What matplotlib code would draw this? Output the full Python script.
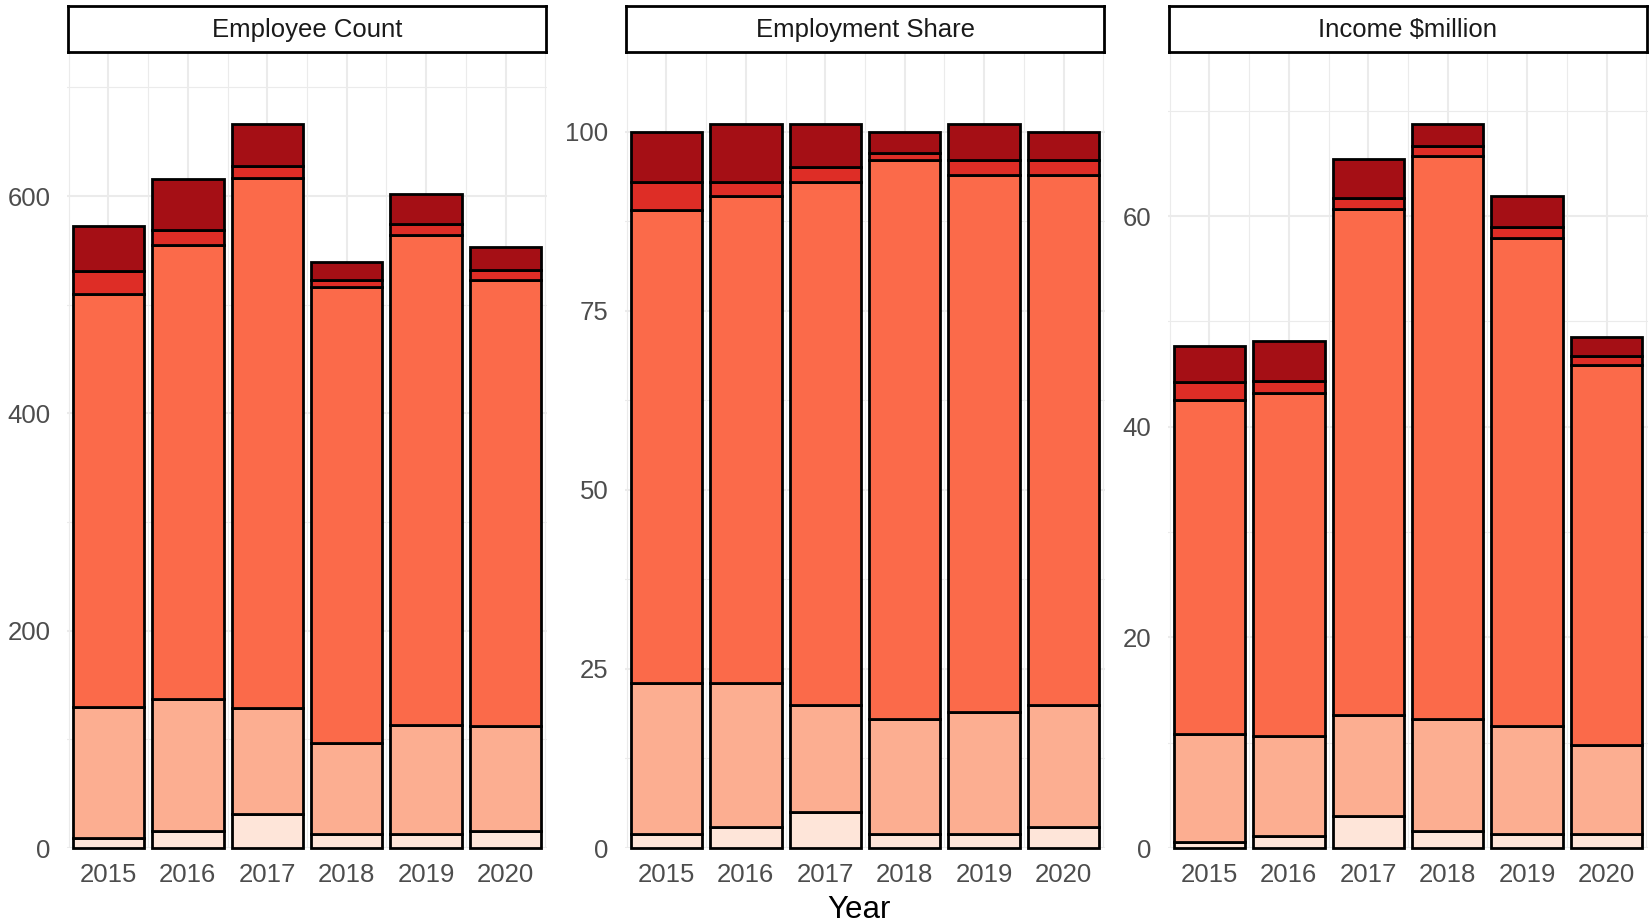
import matplotlib
matplotlib.use('Agg')
import matplotlib.pyplot as plt
import numpy as np

plt.rcParams['font.family'] = ['Liberation Sans', 'DejaVu Sans']

years = ['2015', '2016', '2017', '2018', '2019', '2020']
panel_titles = ['Employee Count', 'Employment Share', 'Income $million']

# 每个面板的堆叠段（从下到上）
count_values = [
    [9, 16, 31, 13, 13, 16],
    [121, 121, 98, 84, 100, 96],
    [380, 418, 488, 419, 451, 411],
    [21, 14, 11, 7, 10, 9],
    [41, 47, 38, 16, 28, 21],
]
share_values = [
    [2, 3, 5, 2, 2, 3],
    [21, 20, 15, 16, 17, 17],
    [66, 68, 73, 78, 75, 74],
    [4, 2, 2, 1, 2, 2],
    [7, 8, 6, 3, 5, 4],
]
income_values = [
    [0.6, 1.1, 3.0, 1.6, 1.3, 1.3],
    [10.2, 9.5, 9.6, 10.6, 10.3, 8.5],
    [31.7, 32.6, 48.1, 53.5, 46.3, 36.1],
    [1.7, 1.1, 1.0, 0.9, 1.1, 0.8],
    [3.5, 3.8, 3.7, 2.1, 2.9, 1.8],
]
major_ticks = [[0, 200, 400, 600], [0, 25, 50, 75, 100], [0, 20, 40, 60]]
colors = ['#FEE5D9', '#FCAE91', '#FB6A4A', '#DE2D26', '#A50F15']

W, H = 1652, 923
fig = plt.figure(figsize=(W / 100, H / 100), dpi=100)

lefts = [67, 625, 1168]
pw = 480
top, bottom = 52, 848

for i, data in enumerate([count_values, share_values, income_values]):
    ax = fig.add_axes([lefts[i] / W, (H - bottom) / H, pw / W, (bottom - top) / H])
    x = np.arange(len(years))
    base = np.zeros(len(years))
    for seg, c in zip(data, colors):
        ax.bar(x, seg, bottom=base, width=0.9, color=c, edgecolor='black',
               linewidth=2, zorder=3, clip_on=False)
        base = base + np.array(seg)
    ymax = base.max() * 1.1
    ax.set_ylim(0, ymax)
    ax.set_xlim(-0.52, 5.52)
    ticks = major_ticks[i]
    step = ticks[1] - ticks[0]
    minor = np.arange(step / 2, ymax, step)
    for t in ticks:
        ax.axhline(t, color='#EBEBEB', linewidth=1.5, zorder=0)
    for t in minor:
        ax.axhline(t, color='#EBEBEB', linewidth=0.8, zorder=0)
    for xv in x:
        ax.axvline(xv, color='#EBEBEB', linewidth=1.5, zorder=0)
    for xv in np.arange(-0.5, 6, 1):
        ax.axvline(xv, color='#EBEBEB', linewidth=0.8, zorder=0)
    ax.set_yticks(ticks)
    ax.set_xticks(x)
    ax.set_xticklabels(years)
    ax.tick_params(length=0, labelsize=18.5, labelcolor='#4D4D4D')
    ax.tick_params(axis='y', pad=12)
    ax.tick_params(axis='x', pad=11)
    for s in ax.spines.values():
        s.set_visible(False)

    # 分面标题框
    sx = fig.add_axes([(lefts[i] + 1) / W, (H - 52) / H, (pw - 2) / W, 46 / H])
    sx.set_xticks([])
    sx.set_yticks([])
    for s in sx.spines.values():
        s.set_linewidth(2)
        s.set_color('black')
    sx.text(0.5, 0.47, panel_titles[i], ha='center', va='center', fontsize=18.5,
            color='#1A1A1A', transform=sx.transAxes)

fig.text(859 / W, 1 - 918 / H, 'Year', ha='center', va='baseline', fontsize=22.5)

plt.savefig('out.png', dpi=100)
